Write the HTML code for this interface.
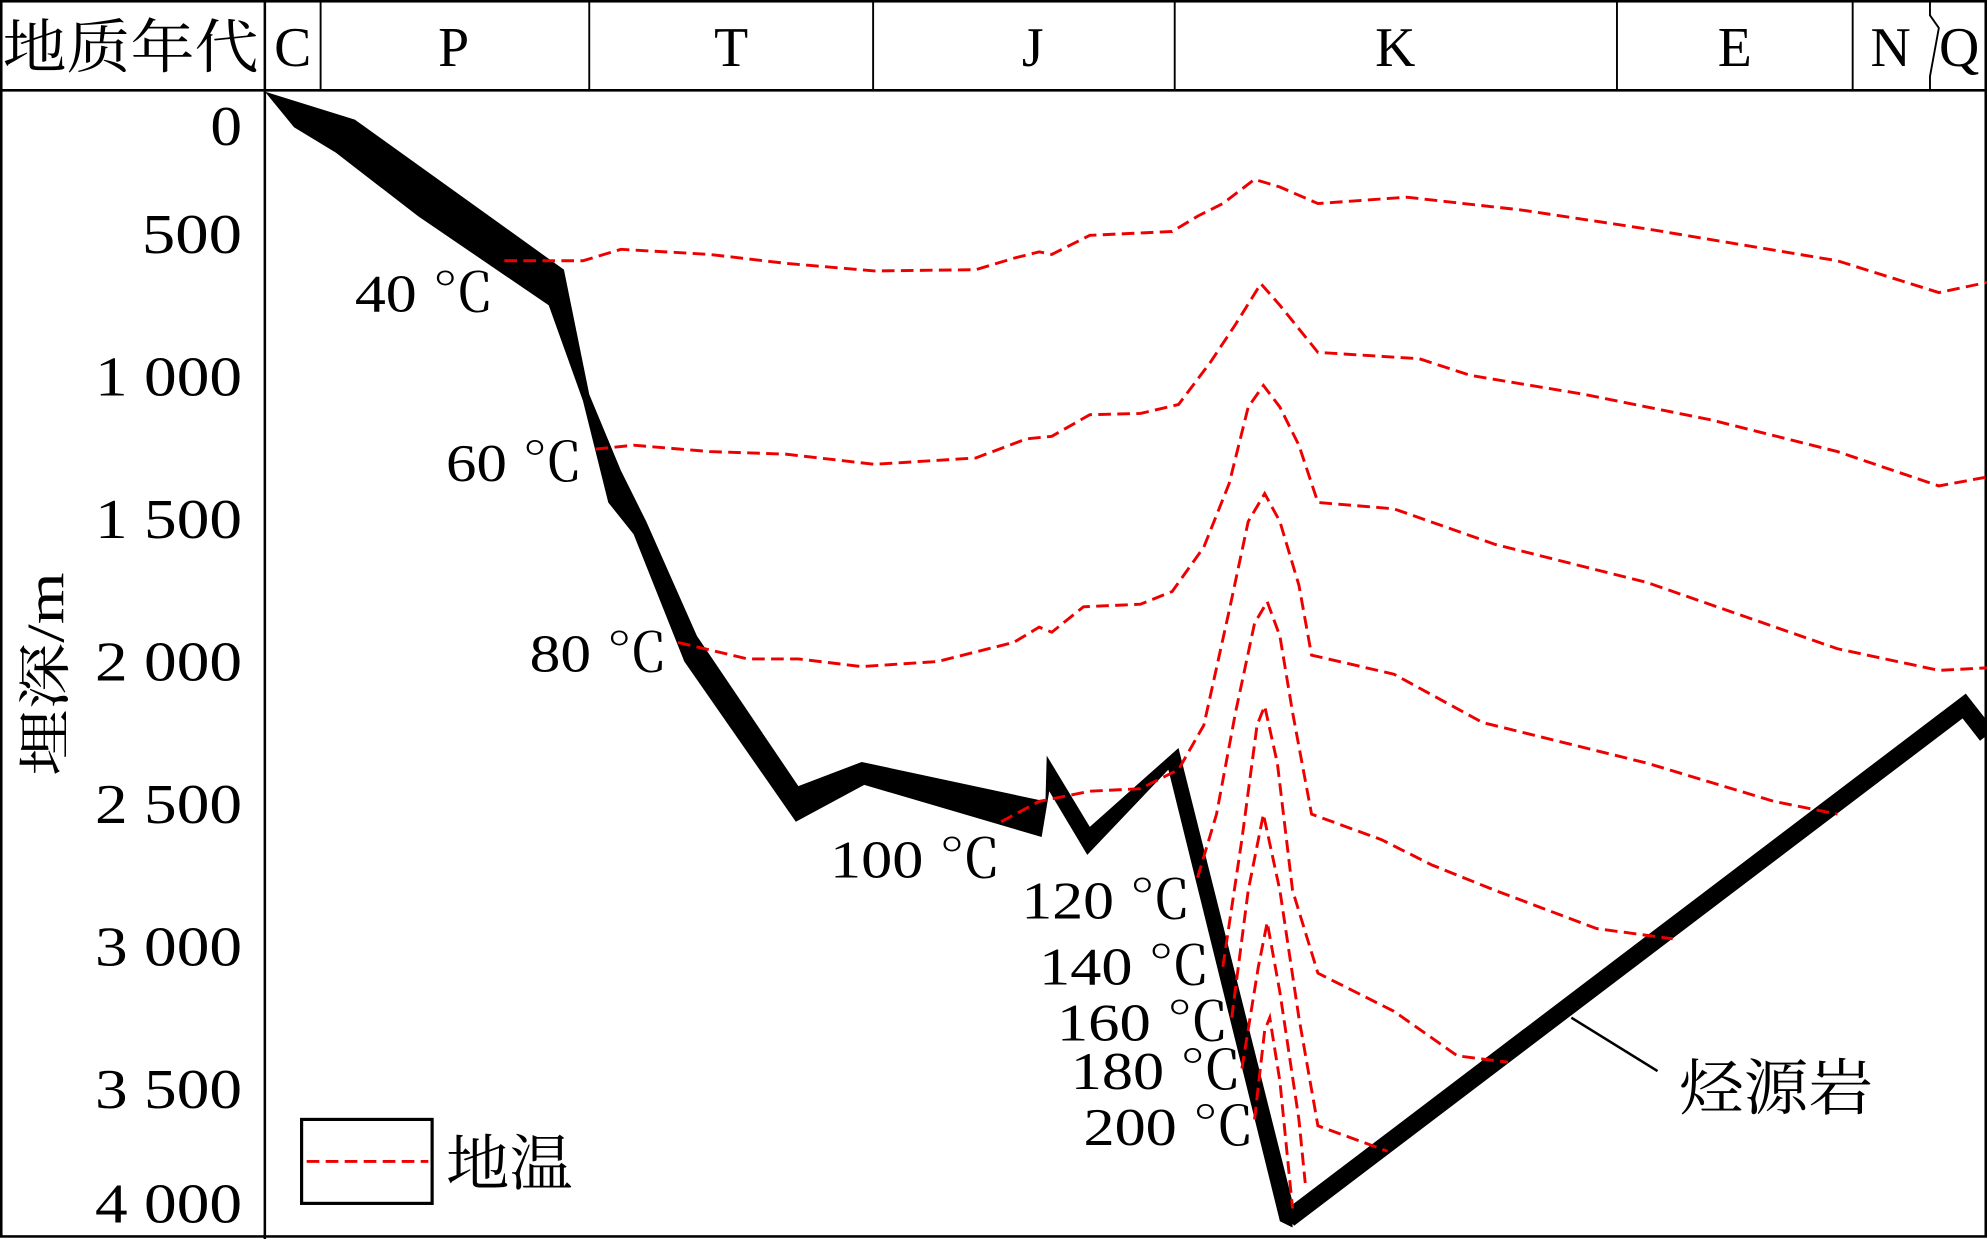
<!DOCTYPE html>
<html><head><meta charset="utf-8"><style>
html,body{margin:0;padding:0;background:#fff;}
svg{display:block;}
text{font-family:"Liberation Serif","Noto Serif CJK SC",serif;fill:#000;}
</style></head><body>
<svg width="1987" height="1239" viewBox="0 0 1568 974" preserveAspectRatio="none" xmlns="http://www.w3.org/2000/svg">
<rect x="1" y="1" width="1566" height="971" fill="#fff" stroke="#000" stroke-width="2"/>
<line x1="0" y1="71" x2="1568" y2="71" stroke="#000" stroke-width="2"/>
<line x1="209" y1="0" x2="209" y2="974" stroke="#000" stroke-width="2"/>
<g stroke="#000" stroke-width="1.5">
<line x1="253" y1="0" x2="253" y2="71"/><line x1="465" y1="0" x2="465" y2="71"/>
<line x1="689" y1="0" x2="689" y2="71"/><line x1="927" y1="0" x2="927" y2="71"/>
<line x1="1276" y1="0" x2="1276" y2="71"/><line x1="1462" y1="0" x2="1462" y2="71"/>
<polyline fill="none" points="1523,0 1523,12 1530,22 1523,60 1523,71"/>
</g>
<text x="2" y="53" font-size="46" textLength="202" lengthAdjust="spacingAndGlyphs">地质年代</text>
<g font-size="44" text-anchor="middle">
<text x="231" y="52">C</text><text x="358" y="52">P</text><text x="577" y="52">T</text>
<text x="815" y="52">J</text><text x="1101" y="52">K</text><text x="1369" y="52">E</text>
<text x="1492" y="52">N</text><text x="1546" y="52">Q</text>
</g>
<g font-size="44">
<text x="166" y="114" textLength="25" lengthAdjust="spacingAndGlyphs">0</text>
<text x="112" y="199" textLength="79" lengthAdjust="spacingAndGlyphs">500</text>
<text x="75" y="311" textLength="116" lengthAdjust="spacingAndGlyphs">1 000</text>
<text x="75" y="423" textLength="116" lengthAdjust="spacingAndGlyphs">1 500</text>
<text x="75" y="535" textLength="116" lengthAdjust="spacingAndGlyphs">2 000</text>
<text x="75" y="647" textLength="116" lengthAdjust="spacingAndGlyphs">2 500</text>
<text x="75" y="759" textLength="116" lengthAdjust="spacingAndGlyphs">3 000</text>
<text x="75" y="871" textLength="116" lengthAdjust="spacingAndGlyphs">3 500</text>
<text x="75" y="961" textLength="116" lengthAdjust="spacingAndGlyphs">4 000</text>
</g>
<text x="0" y="0" font-size="42" text-anchor="middle" transform="translate(50,530) rotate(-90)" textLength="160" lengthAdjust="spacingAndGlyphs">埋深/m</text>
<polygon fill="#000" points="209,72 280,94 445,212 465,310 490,370 510,410 550,500 630,618 680,599 825,630 826,594 860,650 930,588 1020,945 1020,965 1010,960 922,605 858,672 828,622 822,658 682,617 628,646 540,520 500,420 480,395 460,315 433,240 330,170 265,120 232,100"/>
<polyline fill="none" stroke="#000" stroke-width="14" points="1017,958 1550,555 1568,578"/>
<g fill="none" stroke="#e00" stroke-width="2.3" stroke-dasharray="10,5">
<polyline points="398,205 460,205 490,196 560,200 620,207 690,213 770,212 800,203 820,198 830,200 860,185 925,182 945,170 965,160 990,141 1010,147 1040,160 1110,155 1200,165 1300,180 1450,205 1530,230 1568,222"/>
<polyline points="470,353 500,350 560,355 620,357 690,365 770,360 810,345 830,343 860,326 900,325 930,318 955,285 975,255 995,223 1010,240 1040,277 1120,282 1160,295 1250,310 1350,330 1450,355 1530,382 1568,375"/>
<polyline points="535,505 590,518 630,518 680,524 740,520 800,505 820,493 830,497 855,477 900,475 925,465 950,430 970,380 985,320 997,303 1010,320 1025,350 1040,395 1100,400 1180,428 1300,458 1450,510 1530,527 1568,525"/>
<polyline points="790,646 820,630 860,622 900,620 930,605 950,570 970,480 985,410 998,388 1010,410 1025,460 1035,515 1100,530 1170,568 1300,600 1400,630 1450,640"/>
<polyline points="945,690 960,640 975,560 990,490 1000,473 1010,500 1020,560 1035,640 1090,660 1130,680 1180,700 1260,730 1320,738"/>
<polyline points="965,760 980,660 992,570 998,555 1008,600 1020,700 1040,765 1100,795 1150,830 1190,835"/>
<polyline points="972,800 985,700 997,640 1010,700 1025,800 1040,885 1095,905"/>
<polyline points="980,840 993,760 1000,725 1010,780 1025,880 1030,930"/>
<polyline points="990,880 998,810 1002,800 1010,850 1020,950"/>
</g>
<g font-size="42">
<text x="280" y="245" textLength="110" lengthAdjust="spacingAndGlyphs">40 ℃</text>
<text x="352" y="378" textLength="108" lengthAdjust="spacingAndGlyphs">60 ℃</text>
<text x="418" y="528" textLength="109" lengthAdjust="spacingAndGlyphs">80 ℃</text>
<text x="655" y="690" textLength="135" lengthAdjust="spacingAndGlyphs">100 ℃</text>
<text x="806" y="722" textLength="134" lengthAdjust="spacingAndGlyphs">120 ℃</text>
<text x="820" y="774" textLength="135" lengthAdjust="spacingAndGlyphs">140 ℃</text>
<text x="834" y="818" textLength="136" lengthAdjust="spacingAndGlyphs">160 ℃</text>
<text x="845" y="856" textLength="135" lengthAdjust="spacingAndGlyphs">180 ℃</text>
<text x="855" y="900" textLength="135" lengthAdjust="spacingAndGlyphs">200 ℃</text>
</g>
<rect x="238" y="880" width="103" height="66" fill="none" stroke="#000" stroke-width="2.5"/>
<line x1="242" y1="913" x2="338" y2="913" stroke="#e00" stroke-width="2.3" stroke-dasharray="10,5"/>
<text x="352" y="931" font-size="48" textLength="100" lengthAdjust="spacingAndGlyphs">地温</text>
<line x1="1240" y1="800" x2="1308" y2="842" stroke="#000" stroke-width="2"/>
<text x="1325" y="872" font-size="48" textLength="153" lengthAdjust="spacingAndGlyphs">烃源岩</text>
</svg>
</body></html>
